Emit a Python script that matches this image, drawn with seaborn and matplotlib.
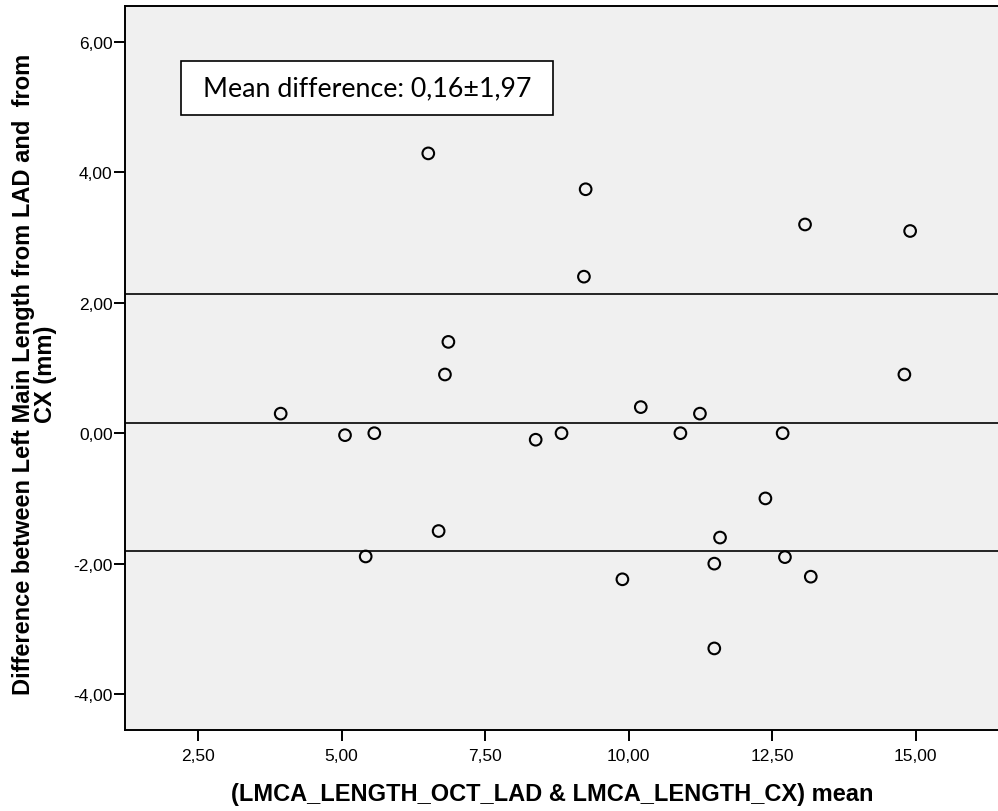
import matplotlib
matplotlib.use("Agg")
import matplotlib.pyplot as plt
import seaborn as sns
import pandas as pd
from matplotlib.patches import Rectangle

# Data
mean_vals = [3.94, 5.06, 5.57, 5.42, 6.51, 6.86, 6.80, 6.69, 8.38, 8.83,
             9.25, 9.22, 9.89, 10.21, 10.90, 11.24, 11.59, 11.49, 11.49, 12.38,
             12.68, 12.72, 13.07, 13.17, 14.80, 14.90]
diff_vals = [0.30, -0.03, 0.00, -1.89, 4.29, 1.40, 0.90, -1.50, -0.10, 0.00,
             3.74, 2.40, -2.24, 0.40, 0.00, 0.30, -1.60, -2.00, -3.30, -1.00,
             0.00, -1.90, 3.20, -2.20, 0.90, 3.10]
mean_diff = 0.16
sd_diff = 1.97
ref_lines = [mean_diff + sd_diff, mean_diff, mean_diff - sd_diff]
x_ticks = [2.5, 5.0, 7.5, 10.0, 12.5, 15.0]
x_tick_labels = ["2,50", "5,00", "7,50", "10,00", "12,50", "15,00"]
y_ticks = [-4, -2, 0, 2, 4, 6]
y_tick_labels = ["-4,00", "-2,00", "0,00", "2,00", "4,00", "6,00"]
annot = "Mean difference: 0,16\u00b11,97"
xlabel = "(LMCA_LENGTH_OCT_LAD & LMCA_LENGTH_CX) mean"
ylabel = "Difference between Left Main Length from LAD and  from\nCX (mm)"

df = pd.DataFrame({"mean": mean_vals, "diff": diff_vals})

sns.set_style("white")
plt.rcParams["font.family"] = ["Liberation Sans", "DejaVu Sans"]
plt.rcParams["text.color"] = "black"
plt.rcParams["axes.labelcolor"] = "black"
plt.rcParams["xtick.color"] = "black"
plt.rcParams["ytick.color"] = "black"

fig = plt.figure(figsize=(9.98, 8.12), dpi=100)
ax = fig.add_axes([0.1253, 0.0998, 0.8747, 0.8916])
ax.set_facecolor("#f0f0f0")

for yv in ref_lines:
    ax.axhline(yv, color="black", lw=1.2, zorder=1)

sns.scatterplot(data=df, x="mean", y="diff", ax=ax, s=70, facecolor="none",
                edgecolor="black", linewidth=1.5, marker="o", zorder=3)

ax.set_xlim(1.23, 16.43)
ax.set_ylim(-4.55, 6.55)
ax.set_xticks(x_ticks)
ax.set_xticklabels(x_tick_labels)
ax.set_yticks(y_ticks)
ax.set_yticklabels(y_tick_labels)
ax.tick_params(axis="both", direction="out", length=8, width=1.4,
               color="black", labelsize=12.5, labelcolor="black",
               bottom=True, left=True)
ax.tick_params(axis="x", pad=5)
ax.tick_params(axis="y", pad=1)

for side in ["left", "bottom", "top"]:
    ax.spines[side].set_visible(True)
    ax.spines[side].set_color("black")
    ax.spines[side].set_linewidth(1.4)
ax.spines["right"].set_visible(False)

ax.set_xlabel(xlabel, fontsize=17, fontweight="bold", color="black")
ax.set_ylabel(ylabel, fontsize=17, fontweight="bold", linespacing=0.95,
              color="black")
ax.xaxis.set_label_coords(0.489, -0.0715)
ax.yaxis.set_label_coords(-0.0774, 0.492)

ax.add_patch(Rectangle((0.0641, 0.849), 0.4262, 0.075, transform=ax.transAxes,
                       facecolor="white", edgecolor="black", lw=1.2, zorder=4))
ax.text(0.0641 + 0.4262 / 2, 0.849 + 0.075 / 2, annot, transform=ax.transAxes,
        ha="center", va="center", fontsize=19.3, family=["Lato", "DejaVu Sans"],
        color="black", zorder=5)

fig.savefig("out.png", dpi=100)
